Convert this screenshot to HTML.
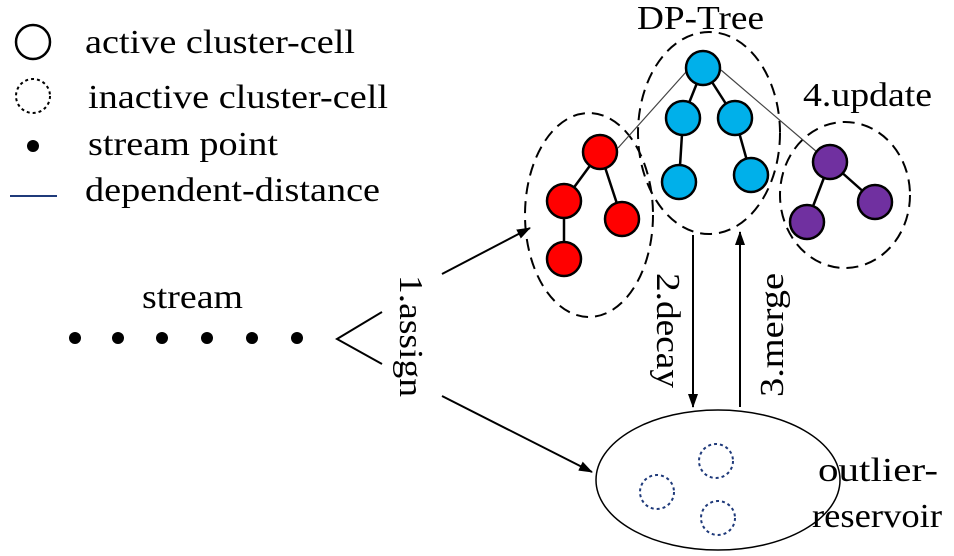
<!DOCTYPE html>
<html><head><meta charset="utf-8"><style>
html,body{margin:0;padding:0;background:#fff}
svg{display:block}
text{font-family:"Liberation Serif",serif;font-size:34px;fill:#000}
</style></head><body>
<svg width="954" height="556" viewBox="0 0 954 556">
<defs>
<marker id="ah2" markerWidth="14" markerHeight="10" refX="13" refY="5" orient="auto" markerUnits="userSpaceOnUse"><path d="M0,0 L14,5 L0,10 Z" fill="#000"/></marker></defs>
<g>
<circle cx="33" cy="42" r="17" fill="none" stroke="#000" stroke-width="2.5"/>
<text x="85" y="53" textLength="270" lengthAdjust="spacingAndGlyphs">active cluster-cell</text>
<circle cx="33" cy="96" r="17" fill="none" stroke="#000" stroke-width="2" stroke-dasharray="3,3"/>
<text x="88" y="108" textLength="300" lengthAdjust="spacingAndGlyphs">inactive cluster-cell</text>
<circle cx="33" cy="146" r="6" fill="#000"/>
<text x="88" y="155" textLength="190" lengthAdjust="spacingAndGlyphs">stream point</text>
<line x1="10" y1="196" x2="57" y2="196" stroke="#1f3a7a" stroke-width="2"/>
<text x="85" y="201" textLength="295" lengthAdjust="spacingAndGlyphs">dependent-distance</text>
</g>
<text x="637" y="29" textLength="127" lengthAdjust="spacingAndGlyphs">DP-Tree</text>
<text x="803" y="106" textLength="129" lengthAdjust="spacingAndGlyphs">4.update</text>
<g fill="none" stroke="#000" stroke-width="2" stroke-dasharray="12,7">
<ellipse cx="589" cy="215" rx="64" ry="102"/>
<ellipse cx="709" cy="133" rx="71" ry="101"/>
<ellipse cx="845" cy="195" rx="65" ry="73"/>
</g>
<g stroke="#444" stroke-width="1.2">
<line x1="686" y1="72" x2="618" y2="148"/>
<line x1="721" y1="70" x2="817" y2="152"/>
</g>
<g stroke="#000" stroke-width="2.5">
<line x1="600" y1="152" x2="564" y2="201"/><line x1="600" y1="152" x2="622" y2="219"/><line x1="564" y1="201" x2="564" y2="259"/>
<line x1="703" y1="68" x2="683" y2="118"/><line x1="703" y1="68" x2="735" y2="118"/><line x1="683" y1="118" x2="679" y2="182"/><line x1="735" y1="118" x2="751" y2="175"/>
<line x1="830" y1="162" x2="807" y2="222"/><line x1="830" y1="162" x2="875" y2="202"/>
</g>
<g stroke="#000" stroke-width="2.5">
<g fill="#ff0000">
<circle cx="600" cy="152" r="17"/><circle cx="564" cy="201" r="17"/><circle cx="622" cy="219" r="17"/><circle cx="564" cy="259" r="17"/></g>
<g fill="#00b0ea">
<circle cx="703" cy="68" r="17"/><circle cx="683" cy="118" r="17"/><circle cx="735" cy="118" r="17"/><circle cx="679" cy="182" r="17"/><circle cx="751" cy="175" r="17"/></g>
<g fill="#7030a0">
<circle cx="830" cy="162" r="17"/><circle cx="807" cy="222" r="17"/><circle cx="875" cy="202" r="17"/></g>
</g>
<g>
<text x="142" y="308" textLength="101" lengthAdjust="spacingAndGlyphs">stream</text>
<circle cx="75" cy="338" r="6"/><circle cx="118" cy="338" r="6"/><circle cx="162" cy="338" r="6"/><circle cx="207" cy="338" r="6"/><circle cx="252" cy="338" r="6"/><circle cx="297" cy="338" r="6"/>
<polyline points="382,312 337,339 382,364" fill="none" stroke="#000" stroke-width="2"/>
</g>
<g stroke="#000" stroke-width="2" fill="none">
<line x1="442" y1="274" x2="530" y2="228" marker-end="url(#ah2)"/>
<line x1="442" y1="396" x2="592" y2="472" marker-end="url(#ah2)"/>
<line x1="693" y1="235" x2="693" y2="407" marker-end="url(#ah2)"/>
<line x1="740" y1="407" x2="740" y2="232" marker-end="url(#ah2)"/>
</g>
<text transform="translate(400,275) rotate(90)" textLength="122" lengthAdjust="spacingAndGlyphs">1.assign</text>
<text transform="translate(657,273) rotate(90)" textLength="115" lengthAdjust="spacingAndGlyphs">2.decay</text>
<text transform="translate(783,397) rotate(-90)" textLength="124" lengthAdjust="spacingAndGlyphs">3.merge</text>
<g>
<ellipse cx="718" cy="480" rx="122" ry="70" fill="none" stroke="#000" stroke-width="1.5"/>
<g fill="none" stroke="#1f3a7a" stroke-width="2" stroke-dasharray="3,3">
<circle cx="716" cy="461" r="17"/><circle cx="657" cy="492" r="17"/><circle cx="718" cy="518" r="17"/></g>
<text x="818" y="481" textLength="120" lengthAdjust="spacingAndGlyphs">outlier-</text>
<text x="812" y="527" textLength="130" lengthAdjust="spacingAndGlyphs">reservoir</text>
</g>
</svg>
</body></html>
